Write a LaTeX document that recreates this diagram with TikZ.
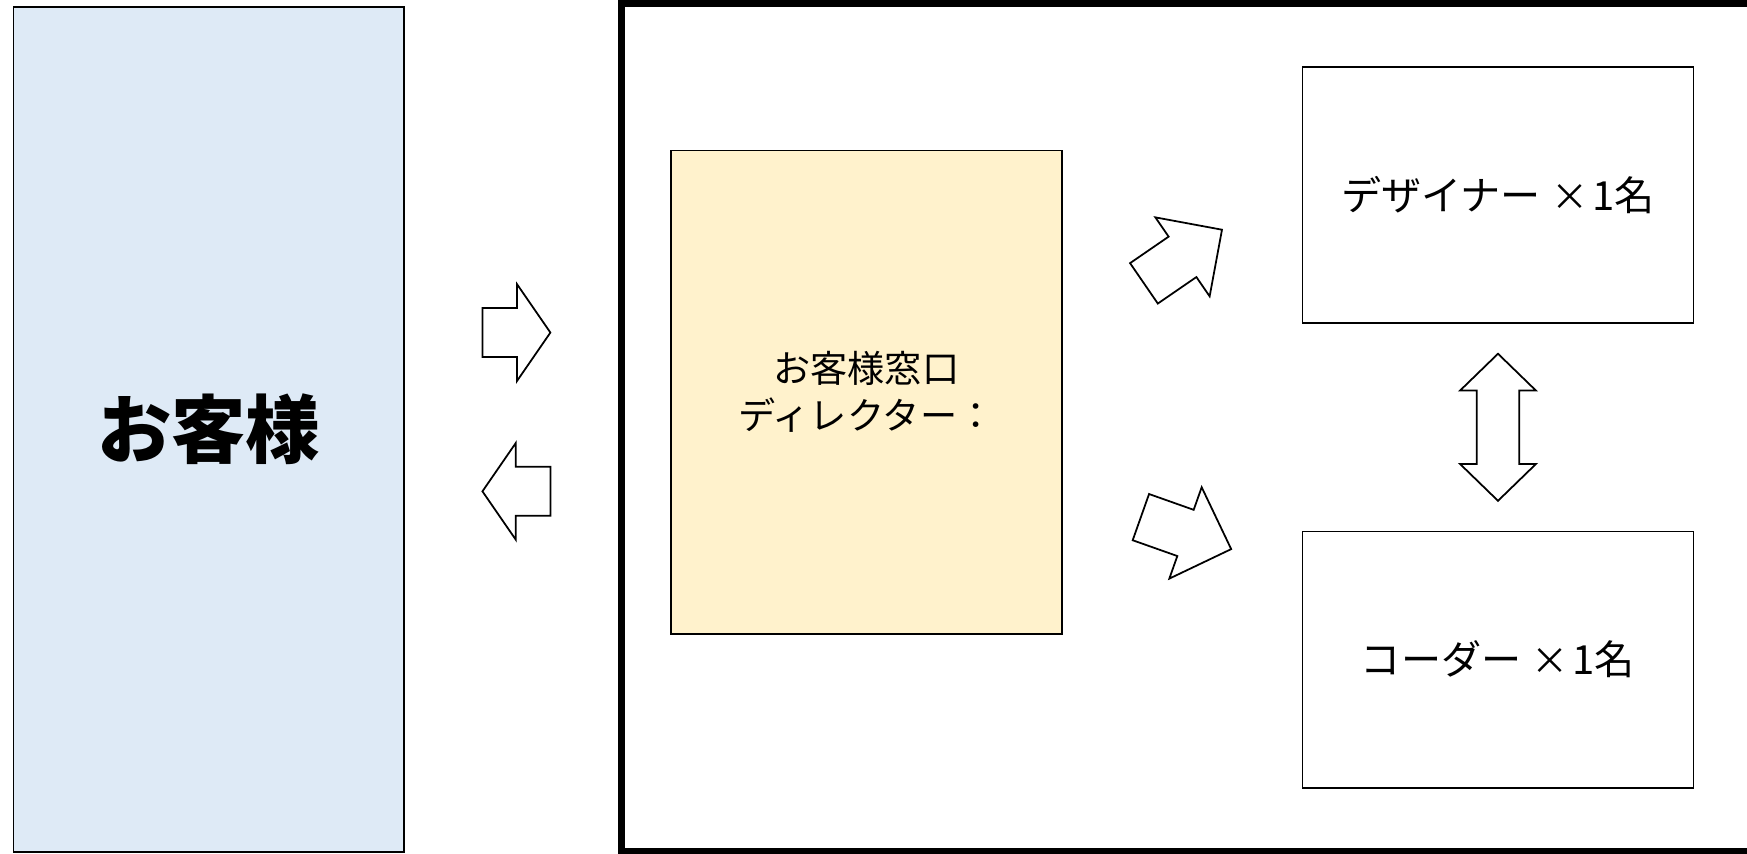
\documentclass[tikz,border=0pt]{standalone}
\usepackage{fontspec}
\setmainfont{Noto Sans CJK JP}
\usetikzlibrary{calc}
\definecolor{custblue}{HTML}{DEEAF6}
\definecolor{diryellow}{HTML}{FFF2CC}
\def\blockarrow[#1](#2)(#3:#4:#5:#6:#7){\draw[#1, shift={(#2)}, rotate=#3] (-#4/2,-#6) -- (#4/2-#5,-#6) -- (#4/2-#5,-#7) -- (#4/2,0) -- (#4/2-#5,#7) -- (#4/2-#5,#6) -- (-#4/2,#6) -- cycle;}
\def\dblarrow[#1](#2)(#3:#4:#5:#6:#7){\draw[#1, shift={(#2)}, rotate=#3] (-#4/2,0) -- (-#4/2+#5,-#7) -- (-#4/2+#5,-#6) -- (#4/2-#5,-#6) -- (#4/2-#5,-#7) -- (#4/2,0) -- (#4/2-#5,#7) -- (#4/2-#5,#6) -- (-#4/2+#5,#6) -- (-#4/2+#5,#7) -- cycle;}
\def\timesmark{\hspace{0.25em}{\fontsize{19}{26}\selectfont ×}\hspace{0.1em}}
\tikzset{
  box/.style={draw, line width=0.9pt, minimum width=7.02cm, align=center, inner sep=0pt},
  staffbox/.style={box, minimum height=4.6cm, font=\fontsize{20.5}{26}\selectfont},
  arrowline/.style={line width=0.9pt, fill=white}
}

\begin{document}
\begin{tikzpicture}[x=0.02cm, y=-0.02cm]
		%%%%% PAGE %%%%%
		\useasboundingbox (0,0) rectangle (1568,766);
		
		%%%%% CUSTOMER %%%%%
		\node[box, fill=custblue, minimum width=7.01cm, minimum height=15.18cm,
		      font=\fontsize{38}{46}\selectfont\bfseries] (customer) at (187.25,385.5) {お客様};
		
		\blockarrow[arrowline](463.5,298.5)(0:61:30:22:43.5);
		\blockarrow[arrowline](463.5,441)(180:61:30:22:43.5);
		
		%%%%% TEAM %%%%%
		\draw[line width=3.4pt] (558,3) rectangle (1600,764);
		
		\node[box, fill=diryellow, minimum height=8.68cm,
		      font=\fontsize{19}{24}\selectfont] (director) at (777.5,352) {お客様窓口\\ディレクター：};
		
		\node[staffbox] (designer) at (1344.5,175) {デザイナー\timesmark 1名};
		\node[staffbox] (coder) at (1344.5,592) {コーダー\timesmark 1名};
		
		\blockarrow[arrowline](1061.75,230.25)(34.5:85:43:22:43);
		\blockarrow[arrowline](1064.5,478.5)(-19.5:86:43.5:22:43.5);
		\dblarrow[arrowline]($(designer.south)!0.5!(coder.north)$)(90:132:33:19:34);
		
		%%%%% END %%%%%
	\end{tikzpicture}
\end{document}
